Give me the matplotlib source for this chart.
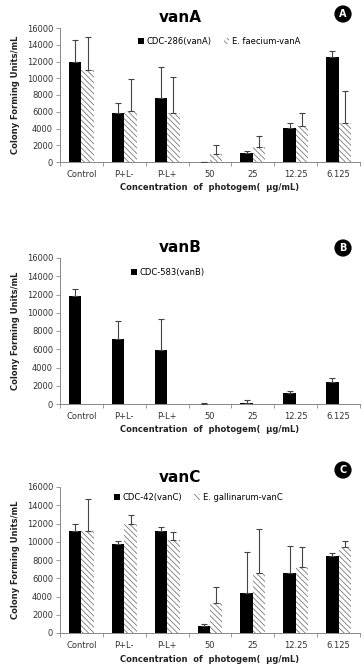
import matplotlib
matplotlib.use("Agg")
import matplotlib.pyplot as plt
import numpy as np

plt.rcParams['font.family'] = ['DejaVu Sans']
plt.rcParams['hatch.linewidth'] = 0.6
plt.rcParams['hatch.color'] = '#7a7a7a'

categories = ["Control", "P+L-", "P-L+", "50", "25", "12.25", "6.125"]
xlabel_text = "Concentration  of  photogem(  \u00b5g/mL)"
ylabel_text = "Colony Forming Units/mL"
yticks = [0, 2000, 4000, 6000, 8000, 10000, 12000, 14000, 16000]

# vanA
vanA_names = ["CDC-286(vanA)", "E. faecium-vanA"]
vanA_black = [12000, 5900, 7600, 0, 1100, 4100, 12500]
vanA_black_err = [2600, 1200, 3700, 0, 200, 500, 800]
vanA_hatch = [11000, 6100, 5900, 1000, 1800, 4300, 4600]
vanA_hatch_err = [3900, 3800, 4300, 1000, 1300, 1600, 3900]

# vanB
vanB_names = ["CDC-583(vanB)"]
vanB_black = [11800, 7100, 5900, 30, 150, 1250, 2450]
vanB_black_err = [800, 2000, 3400, 50, 250, 200, 400]

# vanC
vanC_names = ["CDC-42(vanC)", "E. gallinarum-vanC"]
vanC_black = [11200, 9800, 11200, 800, 4400, 6600, 8400]
vanC_black_err = [700, 300, 400, 150, 4500, 2900, 400]
vanC_hatch = [11200, 12000, 10200, 3300, 6600, 7200, 9400]
vanC_hatch_err = [3500, 900, 900, 1700, 4800, 2200, 700]

W, H = 364, 671
fig = plt.figure(figsize=(W / 100, H / 100), dpi=100)


def px_axes(left, top, right, bottom):
    return fig.add_axes([left / W, 1 - bottom / H, (right - left) / W, (bottom - top) / H])


def style_axes(ax):
    x = np.arange(len(categories))
    ax.set_xlim(-0.5, len(categories) - 0.5)
    ax.set_ylim(0, 16000)
    ax.set_yticks(yticks)
    ax.set_yticklabels([str(t) for t in yticks], fontsize=6, color='#333333')
    ax.set_xticks(x)
    ax.set_xticklabels(categories, fontsize=6, color='#333333')
    ax.set_xticks(np.arange(len(categories) + 1) - 0.5, minor=True)
    ax.tick_params(axis='x', which='major', length=0, pad=6)
    ax.tick_params(axis='x', which='minor', length=3, width=0.6, color='#888888')
    ax.tick_params(axis='y', length=3, width=0.6, color='#888888', pad=2)
    for s in ['top', 'right']:
        ax.spines[s].set_visible(False)
    for s in ['left', 'bottom']:
        ax.spines[s].set_linewidth(0.7)
        ax.spines[s].set_color('#888888')
    ax.set_xlabel(xlabel_text, fontsize=6, fontweight='bold', labelpad=3, color='#222222')
    ax.set_ylabel(ylabel_text, fontsize=6, fontweight='bold', labelpad=5, color='#222222')


bw = 0.29
ekw = dict(ecolor='#444444', elinewidth=0.8, capsize=2.2, capthick=0.8)


def draw_two(ax, b, be, h, he, names, legx, legy):
    x = np.arange(len(categories))
    ax.bar(x - bw / 2, b, bw, color='black', label=names[0], zorder=2)
    ax.errorbar(x - bw / 2, b, yerr=[np.zeros(len(b)), be], fmt='none', zorder=3, **ekw)
    ax.bar(x + bw / 2, h, bw, color='white', edgecolor='#7a7a7a', linewidth=0,
           hatch='\\\\\\\\\\\\', label=names[1], zorder=2)
    ax.errorbar(x + bw / 2, h, yerr=[np.zeros(len(h)), he], fmt='none', zorder=3, **ekw)
    style_axes(ax)
    ax.legend(loc='center', bbox_to_anchor=(legx, legy), ncol=2, frameon=False,
              fontsize=6, handlelength=0.7, handleheight=0.7, handletextpad=0.3,
              columnspacing=1.5)


axA = px_axes(60, 28, 360, 162)
draw_two(axA, vanA_black, vanA_black_err, vanA_hatch, vanA_hatch_err, vanA_names, 0.53, 0.9)

axB = px_axes(60, 258, 360, 404)
xB = np.arange(len(categories))
axB.bar(xB - bw / 2, vanB_black, bw, color='black', label=vanB_names[0], zorder=2)
axB.errorbar(xB - bw / 2, vanB_black, yerr=[np.zeros(len(vanB_black)), vanB_black_err],
             fmt='none', zorder=3, **ekw)
style_axes(axB)
axB.legend(loc='center', bbox_to_anchor=(0.36, 0.9), frameon=False, fontsize=6,
           handlelength=0.7, handleheight=0.7, handletextpad=0.3)

axC = px_axes(60, 487, 360, 633)
draw_two(axC, vanC_black, vanC_black_err, vanC_hatch, vanC_hatch_err, vanC_names, 0.46, 0.93)

titles = [("vanA", 17), ("vanB", 248), ("vanC", 477)]
for t, y in titles:
    fig.text(180 / W, 1 - y / H, t, ha='center', va='center', fontsize=11, fontweight='bold')

letters = [("A", 14), ("B", 248), ("C", 470)]
for L, y in letters:
    fig.text(343 / W, 1 - y / H, L, ha='center', va='center', fontsize=7, color='white',
             fontweight='bold',
             bbox=dict(boxstyle='circle,pad=0.3', fc='black', ec='black'))

fig.savefig("out.png", dpi=100)
